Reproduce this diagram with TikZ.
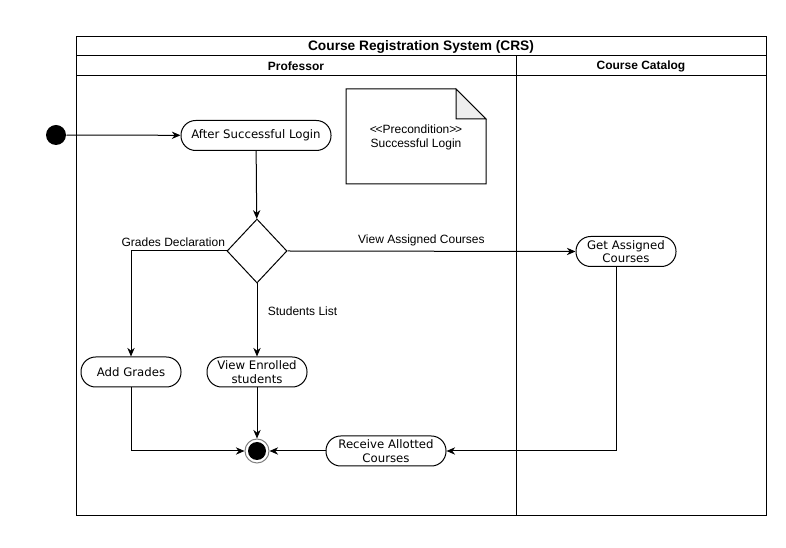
\documentclass[tikz,border=0pt]{standalone}
\usepackage{fontspec}
\setmainfont{Liberation Sans}
\newfontfamily\actfont{DejaVu Sans}
\usetikzlibrary{arrows.meta,shapes.geometric}
\tikzset{every picture/.style={line width=0.75pt}}

\begin{document}
\begin{tikzpicture}[x=0.75pt,y=0.75pt,yscale=-1,xscale=1,
    action/.style={draw,rounded corners=11pt,minimum width=75pt,minimum height=22.5pt,inner sep=1pt,align=center,font=\actfont\fontsize{8.8}{10}\selectfont},
    flow/.style={-{Stealth[length=6.5pt,width=5.5pt]}},
    lbl/.style={font=\fontsize{9}{10.5}\selectfont,inner sep=0.75pt},
    lane/.style={lbl,font=\bfseries\fontsize{9}{10.5}\selectfont}]
        \useasboundingbox (0,0) rectangle (786,548);

        %Pool and lanes
        \draw (76,37) rectangle (766,516);
        \draw (76,56) -- (766,56);
        \draw (76,76) -- (766,76);
        \draw (516,56) -- (516,516);
        \node[lane,font=\bfseries\fontsize{10.3}{12}\selectfont] (pool) at (421,46.5) {Course Registration System (CRS)};
        \node[lane] (prof) at (296,66) {Professor};
        \node[lane] (catalog) at (641,66) {Course Catalog};

        %Note
        \draw[fill=white] (346,89) -- (456,89) -- (486,119) -- (486,184) -- (346,184) -- cycle;
        \draw[fill={rgb,255:red,238;green,238;blue,238}] (456,89) -- (456,119) -- (486,119) -- cycle;
        \node[lbl,align=center] (note) at (416,137) {<\kern-1pt<Precondition>\kern-1pt>\\Successful Login};

        %Activity nodes
        \node[circle,fill=black,minimum size=15pt,inner sep=0pt] (start) at (56,135) {};
        \node[action,minimum width=112.5pt] (login) at (256,135.5) {After Successful Login};
        \node[diamond,draw,minimum width=45pt,minimum height=48pt,inner sep=0pt] (dec) at (257,251) {};
        \node[action] (grades) at (131,372) {Add Grades};
        \node[action] (enrolled) at (257,372) {View Enrolled\\students};
        \node[action] (getc) at (626,251.5) {Get Assigned\\Courses};
        \node[action,minimum width=90pt] (recv) at (386,451) {Receive Allotted\\Courses};
        \node[circle,draw=gray,minimum size=18pt,inner sep=0pt] (end) at (257,451) {};
        \node[circle,fill=black,minimum size=13.5pt,inner sep=0pt] (endin) at (end) {};

        %Flows
        \draw[flow] (start) -- (login);
        \draw[flow] (login) -- (dec);
        \draw[flow] (dec.west) -| (grades.north) node[lbl,pos=0,anchor=south east,xshift=0pt,yshift=2.5pt] (gdlbl) {Grades Declaration};
        \draw[flow] (dec.east) -- (getc.west) node[lbl,pos=0.465,anchor=south,yshift=2.5pt] (vaclbl) {View Assigned Courses};
        \draw[flow] (dec.south) -- (enrolled.north) node[lbl,pos=0.38,anchor=west,xshift=7pt] (sllbl) {Students List};
        \draw[flow] (grades.south) |- (end.west);
        \draw[flow] (enrolled) -- (end);
        \draw[flow] (recv) -- (end);
        \draw[flow] ([xshift=-7.5pt]getc.south) |- (recv.east);

    \end{tikzpicture}
\end{document}
